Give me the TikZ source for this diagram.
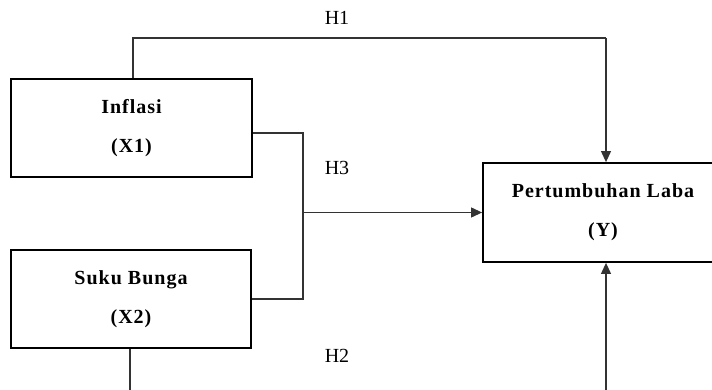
\documentclass[tikz,border=0pt]{standalone}
\usepackage{fontspec}
\setmainfont{Liberation Serif}
\newfontfamily\boxfont{Liberation Serif}[LetterSpace=5]
\usetikzlibrary{arrows.meta,calc}
\begin{document}
\begin{tikzpicture}[x=1pt,y=-1pt,
  varbox/.style={draw=black,line width=1.8pt,rectangle,inner sep=0pt,align=center,
    font=\boxfont\fontsize{20}{39}\selectfont\bfseries},
  conn/.style={draw=black!80,line width=1.1pt},
  arr/.style={conn,-{Triangle[length=11pt,width=10pt]}},
  hlabel/.style={font=\fontsize{20}{24}\selectfont}]
\useasboundingbox (0,0) rectangle (712,390);
\clip (0,0) rectangle (712,390);

% variables
\node[varbox,minimum width=241pt,minimum height=98pt] (inf) at (131.5,128) {Inflasi\\(X1)};
\node[varbox,minimum width=240pt,minimum height=98pt] (sb) at (131,299) {Suku Bunga\\(X2)};
\node[varbox,minimum width=240pt,minimum height=99pt] (y) at (603,212.5) {Pertumbuhan Laba\\(Y)};

% routing points
\coordinate (h1l) at (133,38);
\coordinate (h1r) at (606,38);
\coordinate (h3x) at (303,212.5);
\coordinate (h2l) at (130,400);
\coordinate (h2r) at (606,400);

% H1: Inflasi -> Pertumbuhan Laba
\draw[conn] (inf.north -| h1l) -- (h1l) -- (h1r);
\draw[arr] (h1r) -- (h1r |- y.north);

% H3: Inflasi and Suku Bunga jointly -> Pertumbuhan Laba
\draw[conn] ([yshift=-5pt]inf.east) -| (h3x) |- (sb.east);
\draw[arr] (h3x) -- (y.west);

% H2: Suku Bunga -> Pertumbuhan Laba
\draw[conn] (sb.south -| h2l) -- (h2l) -- (h2r);
\draw[arr] (h2r) -- (h2r |- y.south);

% hypothesis labels
\node[hlabel] (lh1) at (337,18) {H1};
\node[hlabel] (lh3) at (337,168) {H3};
\node[hlabel] (lh2) at (337,356) {H2};
\end{tikzpicture}
\end{document}
